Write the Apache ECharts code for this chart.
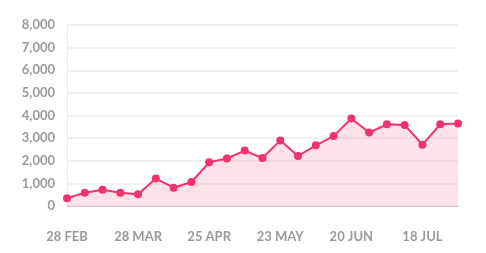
<!DOCTYPE html>
<html><head><meta charset="utf-8">
<script src="https://cdn.jsdelivr.net/npm/echarts@6/dist/echarts.min.js"></script>
<style>html,body{margin:0;padding:0;background:#fff}#c{width:486px;height:253px}</style>
</head><body><div id="c"></div>
<script>
var categories = ['28 FEB','7 MAR','14 MAR','21 MAR','28 MAR','4 APR','11 APR','18 APR','25 APR','2 MAY','9 MAY','16 MAY','23 MAY','30 MAY','6 JUN','13 JUN','20 JUN','27 JUN','4 JUL','11 JUL','18 JUL','25 JUL','1 AUG'];
var values = [340,590,720,590,515,1210,810,1060,1930,2100,2450,2120,2900,2210,2680,3090,3870,3250,3610,3580,2710,3610,3650];
var yTicks = [0,1000,2000,3000,4000,5000,6000,7000,8000];

var chart = echarts.init(document.getElementById('c'));
chart.setOption({
  animation:false,
  grid:{left:67,right:28,top:25,bottom:47},
  xAxis:{type:'category',data:categories,boundaryGap:false,
    axisLine:{lineStyle:{color:'#d9c0c8',width:1}},
    axisTick:{show:false},
    axisLabel:{interval:3,margin:24,color:'#9a9a9a',fontFamily:'Lato',fontWeight:'bold',fontSize:13}},
  yAxis:{type:'value',min:yTicks[0],max:yTicks[yTicks.length-1],interval:1000,
    axisLine:{show:true,lineStyle:{color:'#ececec'}},
    axisTick:{show:false},
    splitLine:{lineStyle:{color:'#ececec',width:1.5}},
    axisLabel:{margin:12,color:'#9a9a9a',fontFamily:'Lato',fontWeight:'bold',fontSize:13,
      formatter:function(v){return v.toLocaleString('en-US');}}},
  series:[{type:'line',data:values,symbol:'circle',symbolSize:8,
    lineStyle:{color:'#f0336a',width:2},
    itemStyle:{color:'#f0336a'},
    areaStyle:{color:'rgba(255,150,175,0.4)'}}]
});
</script></body></html>
